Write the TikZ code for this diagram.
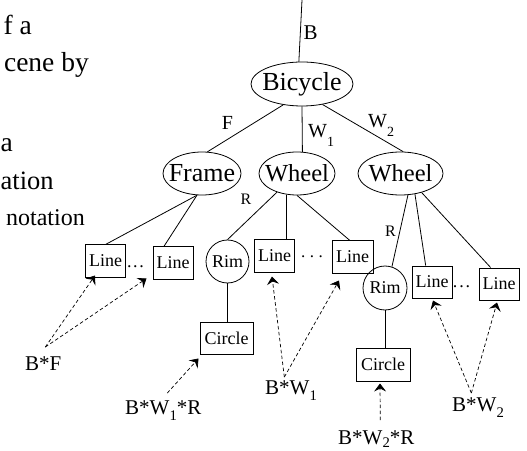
\documentclass[tikz,border=0pt]{standalone}
\usepackage{fontspec}
\setmainfont{Liberation Serif}
\usetikzlibrary{shapes.geometric,arrows.meta,calc}

% size in bp, used for every text
\newcommand\fs[1]{\fontsize{#1bp}{#1bp}\selectfont}
% lowered, smaller index digit
\newcommand\lsub[2][0.3]{\raisebox{-#1em}{\scalebox{0.7}{#2}}}

\begin{document}
\begin{tikzpicture}[x=1bp,y=-1bp,
  every node/.style={inner sep=0pt},
  partell/.style={draw,ellipse,line width=0.8bp,inner xsep=-15bp,font=\fs{26}},
  leafbox/.style={draw,rectangle,line width=1bp,minimum width=40bp,minimum height=32bp,font=\fs{18}},
  circbox/.style={leafbox,minimum width=53bp},
  rimnode/.style={draw,circle,line width=0.8bp,minimum size=43bp,font=\fs{18}},
  link/.style={line width=0.8bp},
  xform/.style={line width=0.7bp,dash pattern=on 3.5bp off 2.5bp,
    -{Stealth[length=8bp,width=12bp,inset=3bp]}},
  edgelbl/.style={anchor=base,font=\fs{21}},
  rlbl/.style={anchor=base,font=\fs{16}},
  prodlbl/.style={anchor=base west,font=\fs{21}},
  slide/.style={anchor=base east,font=\fs{27.5}},
  dotrow/.style={anchor=base,font=\fs{18}}
]
\useasboundingbox[fill=white] (0,0) rectangle (527,451);

% slide text at the left edge
\node[slide] (t1) at (32,35) {f a};
\node[slide] (t2) at (89,72) {cene by};
\node[slide] (t3) at (13,152) {a};
\node[slide,anchor=base west,font=\fs{26.5}] (t4) at (0.5,189.5) {ation};
\node[slide,font=\fs{24}] (t5) at (85,226) {notation};

% scene graph nodes
\node[partell,minimum width=102bp,minimum height=44bp] (bic) at (302,84) {Bicycle};
\node[partell,minimum width=78bp,minimum height=43bp] (frame) at (202,173.5) {Frame};
\node[partell,minimum width=76bp,minimum height=43bp,font=\fs{24.5}] (wh1) at (297,173.5) {Wheel};
\node[partell,minimum width=85bp,minimum height=43bp,font=\fs{24.5}] (wh2) at (400.5,173.5) {Wheel};

\node[leafbox] (lf1) at (105.5,261) {Line};
\node[leafbox] (lf2) at (173,263) {Line};
\node[rimnode] (rim1) at (227.5,261.5) {Rim};
\node[circbox] (c1) at (226.5,338) {Circle};
\node[leafbox,minimum height=33bp] (lw1a) at (274.5,256) {Line};
\node[leafbox,minimum width=41bp] (lw1b) at (352.5,257) {Line};
\node[rimnode,minimum size=44bp] (rim2) at (385,288) {Rim};
\node[circbox,minimum width=54bp,minimum height=33bp] (c2) at (383,364.5) {Circle};
\node[leafbox] (lw2a) at (432,282) {Line};
\node[leafbox] (lw2b) at (499,284) {Line};

% elisions between sibling lines
\node[dotrow] (d1) at (135.5,267) {.\kern1.6bp.\kern1.6bp.};
\node[dotrow,font=\fs{17}] (d2) at (312,258) {.\kern4.5bp.\kern4.5bp.};
\node[dotrow] (d3) at (461.5,287.5) {.\kern1.8bp.\kern1.8bp.};

% hierarchy
\coordinate (root) at (302,0);
\draw[link] (root) -- (bic.98);
\draw[link] (bic.228) -- (frame.76);
\draw[link] (bic.south) -- (wh1.76);
\draw[link] (bic.315) -- (wh2.83);
\draw[link] (frame.257) -- (lf1.north);
\draw[link] (frame.257) -- (lf2.119);
\draw[link] (wh1.223) -- (rim1.north);
\draw[link] (wh1.244) -- (wh1.244 |- lw1a.north);
\draw[link] (wh1.south) -- (lw1b.99);
\draw[link] (rim1.south) -- (rim1.south |- c1.north);
\draw[link] (wh2.289) -- (rim2.72);
\draw[link] (wh2.305) -- (lw2a.111);
\draw[link] (wh2.318) -- (lw2b.117);
\draw[link] (rim2.south) -- (rim2.south |- c2.north);

% transform labels on the edges
\node[edgelbl] (lB) at (310.5,40) {B};
\node[edgelbl,font=\fs{20}] (lF) at (227.5,130) {F};
\node[edgelbl,anchor=base west,font=\fs{20}] (lW1) at (308,138) {W\lsub[0.45]{1}};
\node[edgelbl,anchor=base west,font=\fs{20}] (lW2) at (368,128) {W\lsub[0.45]{2}};
\node[rlbl] (lR1) at (246,205) {R};
\node[rlbl] (lR2) at (390.5,237) {R};

% accumulated transforms
\node[prodlbl] (bf) at (25,370) {B*F};
\node[prodlbl] (bw1r) at (125,414) {B*W\lsub{1}*R};
\node[prodlbl] (bw1) at (265,394) {B*W\lsub{1}};
\node[prodlbl] (bw2) at (452,411) {B*W\lsub{2}};
\node[prodlbl] (bw2r) at (338,444) {B*W\lsub[0.18]{2}*R};

\draw[xform] ($(bf.north)+(2,-9)$) -- ($(lf1.south)+(-10.5,-2)$);
\draw[xform] ($(bf.north)+(2,-9)$) -- ($(lf2.south west)+(-6,-1)$);
\draw[xform] ($(bw1r.north)+(4,-7)$) -- ($(c1.south west)+(-1,4)$);
\draw[xform] ($(bw1.north)+(-6.7,-3)$) -- ($(lw1a.south)+(-2.5,3.5)$);
\draw[xform] ($(bw1.north)+(-6.7,-3)$) -- ($(lw1b.south)+(-13.5,7)$);
\draw[xform] ($(bw2.north)+(-6.7,-4)$) -- ($(lw2a.south)+(1,2)$);
\draw[xform] ($(bw2.north)+(-6.7,-4)$) -- ($(lw2b.south)+(-2,2)$);
\draw[xform] ($(bw2r.north)+(4,-10)$) -- ($(c2.south)+(-3,2)$);
\end{tikzpicture}
\end{document}
